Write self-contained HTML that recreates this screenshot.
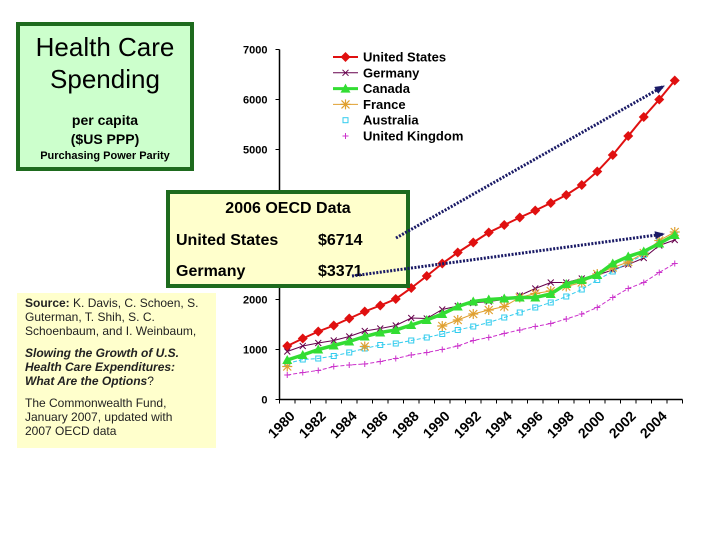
<!DOCTYPE html>
<html><head><meta charset="utf-8">
<style>
body{margin:0;width:720px;height:540px;background:#fff;position:relative;overflow:hidden;font-family:"Liberation Sans",sans-serif}
.box{position:absolute;box-sizing:border-box}
</style></head><body>
<div class="box" style="left:16px;top:22px;width:178px;height:149px;background:#ccffcc;border:4px solid #1e6b1e;text-align:center">
 <div style="font-size:26px;line-height:32px;margin-top:5px">Health Care<br>Spending</div>
 <div style="font-size:14px;font-weight:bold;margin-top:16px;line-height:19px">per capita<br>($US PPP)</div>
 <div style="font-size:11px;font-weight:bold;margin-top:1px">Purchasing Power Parity</div>
</div>
<div class="box" style="left:17px;top:293px;width:199px;height:155px;background:#ffffcc;padding:3px 14px 0 8px;font-size:12px;line-height:14px;color:#222">
 <div><b>Source:</b> K. Davis, C. Schoen, S. Guterman, T. Shih, S. C. Schoenbaum, and I. Weinbaum,</div>
 <div style="margin-top:8px;font-weight:bold;font-style:italic">Slowing the Growth of U.S. Health Care Expenditures: What Are the Options<span style="font-weight:normal;font-style:normal">?</span></div>
 <div style="margin-top:8px">The Commonwealth Fund, January 2007, updated with 2007 OECD data</div>
</div>
<svg id="chart" width="720" height="540" style="position:absolute;left:0;top:0"></svg>
<div class="box" style="left:166px;top:190px;width:244px;height:98px;background:#ffffcc;border:4px solid #1e6b1e;font-weight:bold;font-size:16px">
 <div style="text-align:center;margin-top:6px">2006 OECD Data</div>
 <div style="position:absolute;left:6px;top:38px">United States</div><div style="position:absolute;left:148px;top:38px">$6714</div>
 <div style="position:absolute;left:6px;top:69px">Germany</div><div style="position:absolute;left:148px;top:69px">$3371</div>
</div>
<svg id="arrows" width="720" height="540" style="position:absolute;left:0;top:0;pointer-events:none">
 <defs><marker id="ah" markerUnits="userSpaceOnUse" markerWidth="10" markerHeight="8" refX="9" refY="4" orient="auto"><path d="M0,0L10,4L0,8z" fill="#1a1a66"/></marker></defs>
 <line x1="396" y1="238" x2="664" y2="86" stroke="#1a1a66" stroke-width="3" stroke-dasharray="2,1.5" marker-end="url(#ah)"/>
 <line x1="352" y1="276" x2="664" y2="234" stroke="#1a1a66" stroke-width="3" stroke-dasharray="2,1.5" marker-end="url(#ah)"/>
</svg>
<script>
const years=[1980,1981,1982,1983,1984,1985,1986,1987,1988,1989,1990,1991,1992,1993,1994,1995,1996,1997,1998,1999,2000,2001,2002,2003,2004,2005];
const usValues=[1070,1220,1360,1480,1620,1760,1880,2010,2230,2470,2720,2940,3140,3340,3490,3640,3780,3930,4090,4290,4560,4890,5270,5650,6000,6380];
const germanyValues=[960,1070,1130,1180,1260,1370,1420,1480,1630,1620,1800,1870,1930,1960,2000,2080,2220,2340,2340,2420,2490,2590,2700,2830,3080,3190];
const canadaValues=[790,890,1000,1080,1160,1260,1340,1390,1490,1590,1710,1860,1960,2000,2020,2040,2040,2110,2310,2390,2490,2720,2860,2960,3120,3290];
const franceValues=[660,null,null,null,null,1060,null,null,null,null,1470,1590,1710,1790,1860,2040,2120,2170,2260,2340,2510,2640,2750,2930,3180,3350];
const australiaValues=[720,800,820,870,940,1020,1090,1120,1180,1240,1310,1390,1460,1540,1640,1740,1840,1940,2060,2200,2390,2560,2740,2890,3160,3290];
const ukValues=[490,540,580,660,690,710,760,820,890,940,1000,1070,1180,1240,1320,1390,1460,1520,1610,1710,1840,2040,2220,2340,2540,2720];
const yTicks=[0,1000,2000,3000,4000,5000,6000,7000];
const NS="http://www.w3.org/2000/svg";
const svg=document.getElementById('chart');
const x0=279.5,step=15.5,yBase=399.5,yScale=0.05;
const xs=i=>x0+(i+0.5)*step, ys=v=>yBase-v*yScale;
function mk(t,a,p){const e=document.createElementNS(NS,t);for(const k in a)e.setAttribute(k,a[k]);(p||svg).appendChild(e);return e;}
let ax=mk('line',{x1:x0,y1:ys(7000),x2:x0,y2:yBase,stroke:'#000','stroke-width':1.5});


let bx=mk('line',{x1:x0,y1:yBase,x2:x0+years.length*step,y2:yBase,stroke:'#000','stroke-width':1.5});


yTicks.forEach(v=>{
 mk('line',{x1:x0-4,y1:ys(v),x2:x0,y2:ys(v),stroke:'#000'});
 const t=mk('text',{x:x0-12,y:ys(v)+4,'text-anchor':'end','font-size':11,'font-weight':'bold','font-family':'Liberation Sans, sans-serif'});
 t.textContent=v;
 
 
});
for(let i=0;i<=years.length;i++) mk('line',{x1:x0+i*step,y1:yBase,x2:x0+i*step,y2:yBase+4,stroke:'#000'});
years.forEach((y,i)=>{ if(i%2) return;
 const cx=xs(i)+5,cy=yBase+14;
 const t=mk('text',{x:cx,y:cy,'text-anchor':'end','font-size':14,'font-weight':'bold','font-family':'Liberation Sans, sans-serif',transform:`rotate(-45 ${cx} ${cy})`,dy:5});
 t.textContent=y;
 
 
});
function marker(kind,cx,cy,c,g){
 if(kind==='diamond') mk('path',{d:`M${cx},${cy-5}L${cx+5},${cy}L${cx},${cy+5}L${cx-5},${cy}z`,fill:c},g);
 else if(kind==='x') mk('path',{d:`M${cx-3},${cy-3}L${cx+3},${cy+3}M${cx-3},${cy+3}L${cx+3},${cy-3}`,stroke:c,'stroke-width':1},g);
 else if(kind==='tri') mk('path',{d:`M${cx},${cy-5}L${cx+5},${cy+4}L${cx-5},${cy+4}z`,fill:c},g);
 else if(kind==='star') mk('path',{d:`M${cx-5},${cy}L${cx+5},${cy}M${cx},${cy-5}L${cx},${cy+5}M${cx-4},${cy-4}L${cx+4},${cy+4}M${cx-4},${cy+4}L${cx+4},${cy-4}`,stroke:c,'stroke-width':1.2},g);
 else if(kind==='sq') mk('rect',{x:cx-2.5,y:cy-2.5,width:5,height:5,fill:'none',stroke:c,'stroke-width':1},g);
 else if(kind==='plus') mk('path',{d:`M${cx-3},${cy}L${cx+3},${cy}M${cx},${cy-3}L${cx},${cy+3}`,stroke:c,'stroke-width':1},g);
}
const series=[
 {name:'United States',vals:usValues,c:'#e01010',w:2,m:'diamond',dash:''},
 {name:'Germany',vals:germanyValues,c:'#66004d',w:1,m:'x',dash:''},
 {name:'Australia',vals:australiaValues,c:'#33ccee',w:1,m:'sq',dash:'4,2'},
 {name:'United Kingdom',vals:ukValues,c:'#cc33cc',w:1,m:'plus',dash:'4,2'},
 {name:'France',vals:franceValues,c:'#e0a030',w:1,m:'star',dash:''},
 {name:'Canada',vals:canadaValues,c:'#33dd33',w:3.5,m:'tri',dash:''}
];
series.forEach(s=>{
 const g=mk('g',{});
 
 
 let d='',pen=false;
 s.vals.forEach((v,i)=>{ if(v==null){pen=false;return;} d+=(pen?'L':'M')+xs(i)+','+ys(v); pen=true;});
 mk('path',{d,fill:'none',stroke:s.c,'stroke-width':s.w,'stroke-dasharray':s.dash},g);
 s.vals.forEach((v,i)=>{ if(v!=null) marker(s.m,xs(i),ys(v),s.c,g);});
});
const leg=[['United States','#e01010','diamond',2],['Germany','#66004d','x',1],['Canada','#33dd33','tri',3],['France','#e0a030','star',1],['Australia','#33ccee','sq',0],['United Kingdom','#cc33cc','plus',0]];
leg.forEach((l,i)=>{
 const g=mk('g',{});
 
 
 const cy=57+i*15.8;
 if(l[3]) mk('line',{x1:333,y1:cy,x2:358,y2:cy,stroke:l[1],'stroke-width':l[3]},g);
 marker(l[2],345.5,cy,l[1],g);
 const t=mk('text',{x:363,y:cy+4.5,'font-size':13,'font-weight':'bold','font-family':'Liberation Sans, sans-serif'},g);
 t.textContent=l[0];
});
</script>
</body></html>
